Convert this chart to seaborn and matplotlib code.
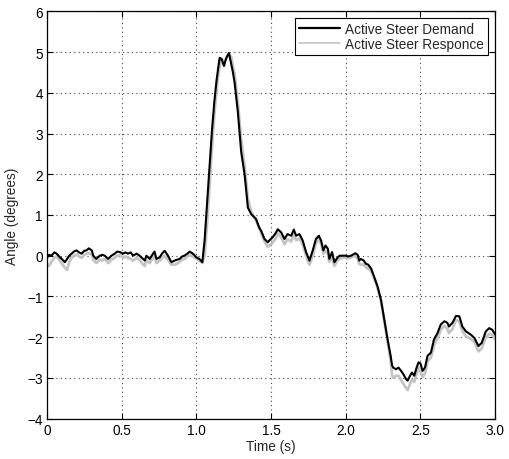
import matplotlib
matplotlib.use("Agg")
import matplotlib.pyplot as plt
import seaborn as sns
import pandas as pd

# Sample times (s)
time_s = [
    0.00, 0.015, 0.03, 0.05, 0.065, 0.087, 0.105, 0.12, 0.135, 0.15,
    0.165, 0.18, 0.198, 0.215, 0.232, 0.25, 0.265, 0.28, 0.30, 0.31,
    0.33, 0.354, 0.37, 0.387, 0.41, 0.432, 0.454, 0.47, 0.488, 0.51,
    0.525, 0.543, 0.56, 0.577, 0.60, 0.62, 0.643, 0.655, 0.666, 0.688,
    0.71, 0.72, 0.733, 0.755, 0.77, 0.788, 0.81, 0.833, 0.855, 0.87,
    0.888, 0.905, 0.92, 0.94, 0.955, 0.977, 1.00, 1.02, 1.04, 1.055,
    1.07, 1.09, 1.105, 1.12, 1.135, 1.145, 1.156, 1.17, 1.185, 1.20,
    1.218, 1.234, 1.245, 1.256, 1.278, 1.30, 1.323, 1.345, 1.367, 1.40,
    1.42, 1.434, 1.456, 1.478, 1.49, 1.51, 1.53, 1.545, 1.568, 1.59,
    1.61, 1.635, 1.652, 1.668, 1.69, 1.712, 1.734, 1.757, 1.779, 1.80,
    1.82, 1.835, 1.85, 1.864, 1.88, 1.89, 1.908, 1.924, 1.946, 1.96,
    1.98, 2.00, 2.015, 2.035, 2.05, 2.064, 2.08, 2.09, 2.10, 2.12,
    2.135, 2.15, 2.17, 2.19, 2.213, 2.236, 2.258, 2.28, 2.30, 2.31,
    2.318, 2.336, 2.353, 2.37, 2.385, 2.403, 2.414, 2.43, 2.443, 2.458,
    2.474, 2.487, 2.50, 2.514, 2.53, 2.547, 2.57, 2.59, 2.614, 2.636,
    2.66, 2.68, 2.69, 2.714, 2.737, 2.76, 2.78, 2.804, 2.837, 2.86,
    2.888, 2.91, 2.937, 2.96, 2.98, 3.00,
]

# Commanded steering angle (degrees)
demand_deg = [
    -0.05, 0.02, 0.00, 0.08, 0.05, -0.04, -0.10, -0.16, -0.08, 0.00,
    0.05, 0.10, 0.13, 0.08, 0.05, 0.12, 0.13, 0.18, 0.13, 0.00,
    -0.08, 0.00, 0.02, 0.00, -0.08, 0.00, 0.05, 0.10, 0.09, 0.05,
    0.08, 0.05, 0.08, 0.00, 0.05, 0.00, -0.08, -0.12, 0.00, -0.08,
    0.05, 0.10, -0.08, -0.04, 0.05, 0.12, 0.00, -0.16, -0.12, -0.10,
    -0.08, -0.02, 0.00, 0.05, 0.10, 0.05, -0.04, -0.08, -0.16, 0.37,
    1.20, 2.31, 3.10, 3.77, 4.30, 4.58, 4.86, 4.82, 4.66, 4.86,
    4.98, 4.70, 4.50, 4.25, 3.52, 2.55, 1.99, 1.18, 1.02, 0.90,
    0.69, 0.61, 0.41, 0.33, 0.38, 0.45, 0.55, 0.65, 0.57, 0.41,
    0.53, 0.49, 0.64, 0.49, 0.53, 0.37, 0.09, -0.12, 0.13, 0.41,
    0.49, 0.37, 0.13, 0.25, 0.17, -0.08, 0.09, -0.16, -0.04, 0.00,
    0.00, 0.00, -0.02, 0.00, 0.03, 0.06, 0.02, -0.12, -0.08, -0.12,
    -0.20, -0.22, -0.32, -0.52, -0.76, -1.09, -1.57, -2.06, -2.46, -2.70,
    -2.75, -2.79, -2.75, -2.83, -2.91, -3.03, -3.07, -2.95, -2.87, -2.95,
    -2.75, -2.62, -2.65, -2.83, -2.75, -2.46, -2.38, -2.06, -1.90, -1.69,
    -1.61, -1.65, -1.74, -1.65, -1.48, -1.49, -1.74, -1.86, -1.94, -2.02,
    -2.22, -2.14, -1.86, -1.78, -1.82, -1.94,
]

# Measured steering angle (degrees)
response_deg = [
    -0.20, -0.25, -0.15, -0.05, -0.02, -0.12, -0.22, -0.30, -0.35, -0.15,
    -0.05, 0.00, 0.03, -0.02, -0.05, 0.02, 0.05, 0.06, 0.03, -0.10,
    -0.18, -0.10, -0.12, -0.08, -0.18, -0.10, -0.05, 0.00, 0.02, -0.05,
    -0.02, -0.05, -0.08, -0.12, -0.05, -0.10, -0.22, -0.25, -0.12, -0.18,
    -0.05, 0.00, -0.18, -0.12, -0.05, 0.00, -0.10, -0.22, -0.22, -0.20,
    -0.15, -0.10, -0.08, -0.02, 0.02, -0.02, -0.08, -0.12, -0.18, 0.00,
    0.70, 1.80, 2.70, 3.45, 4.05, 4.40, 4.65, 4.85, 4.75, 4.82,
    4.95, 4.88, 4.65, 4.45, 3.75, 2.85, 2.20, 1.40, 1.08, 0.85,
    0.70, 0.55, 0.35, 0.22, 0.25, 0.32, 0.42, 0.55, 0.45, 0.28,
    0.40, 0.35, 0.52, 0.38, 0.42, 0.28, 0.00, -0.22, 0.00, 0.30,
    0.40, 0.30, 0.05, 0.12, 0.05, -0.15, -0.05, -0.25, -0.10, -0.08,
    -0.05, -0.05, -0.06, -0.05, -0.02, 0.00, -0.08, -0.20, -0.22, -0.22,
    -0.28, -0.32, -0.38, -0.55, -0.80, -1.12, -1.62, -2.10, -2.55, -2.95,
    -3.00, -2.95, -2.95, -3.05, -3.15, -3.25, -3.30, -3.15, -3.05, -3.10,
    -2.90, -2.75, -2.85, -2.98, -2.90, -2.60, -2.50, -2.20, -2.02, -1.82,
    -1.72, -1.80, -1.90, -1.80, -1.58, -1.62, -1.85, -1.98, -2.05, -2.12,
    -2.35, -2.28, -2.00, -1.92, -1.95, -2.05,
]

x_ticks = [0, 0.5, 1.0, 1.5, 2.0, 2.5, 3.0]
x_tick_labels = ["0", "0.5", "1.0", "1.5", "2.0", "2.5", "3.0"]
y_ticks = [-4, -3, -2, -1, 0, 1, 2, 3, 4, 5, 6]

sns.set_theme(style="white")
plt.rcParams["font.family"] = ["Liberation Sans", "DejaVu Sans"]

df = pd.DataFrame({"t": time_s, "demand": demand_deg, "response": response_deg})

fig = plt.figure(figsize=(5.1, 4.6), dpi=100)
ax = fig.add_axes([0.092, 0.088, 0.879, 0.885])

# response drawn first so the demand trace sits on top
sns.lineplot(data=df, x="t", y="response", ax=ax, color="#c4c4c4", linewidth=2.0,
             estimator=None, sort=False, label="Active Steer Responce", zorder=2)
sns.lineplot(data=df, x="t", y="demand", ax=ax, color="black", linewidth=1.5,
             estimator=None, sort=False, label="Active Steer Demand", zorder=3)

ax.set_xlim(0, 3.0)
ax.set_ylim(-4, 6)
ax.set_xticks(x_ticks)
ax.set_xticklabels(x_tick_labels)
ax.set_yticks(y_ticks)
ax.set_xlabel("Time (s)", fontsize=9.8, labelpad=2)
ax.set_ylabel("Angle (degrees)", fontsize=9.8, labelpad=6)

ax.grid(True, linestyle=(0, (1, 3)), color="#444444", linewidth=0.8)
ax.tick_params(direction="in", length=4, width=0.8, colors="black",
               top=True, right=True, bottom=True, left=True,
               labelsize=9.8, pad=3)
for side in ax.spines.values():
    side.set_color("black")
    side.set_linewidth(0.9)

handles, labels = ax.get_legend_handles_labels()
order = [1, 0]
leg = ax.legend([handles[i] for i in order], [labels[i] for i in order],
                loc="upper right", bbox_to_anchor=(0.984, 0.985),
                fontsize=9.8, frameon=True, fancybox=False, handlelength=3.0,
                handletextpad=0.4, borderpad=0.3, labelspacing=0.12,
                borderaxespad=0.0)
leg.get_frame().set_edgecolor("black")
leg.get_frame().set_linewidth(0.8)
leg.get_frame().set_alpha(1.0)
leg_lines = leg.get_lines()
leg_lines[0].set_linewidth(1.6)
leg_lines[1].set_linewidth(1.2)

fig.savefig("out.png", dpi=100, facecolor="white")
